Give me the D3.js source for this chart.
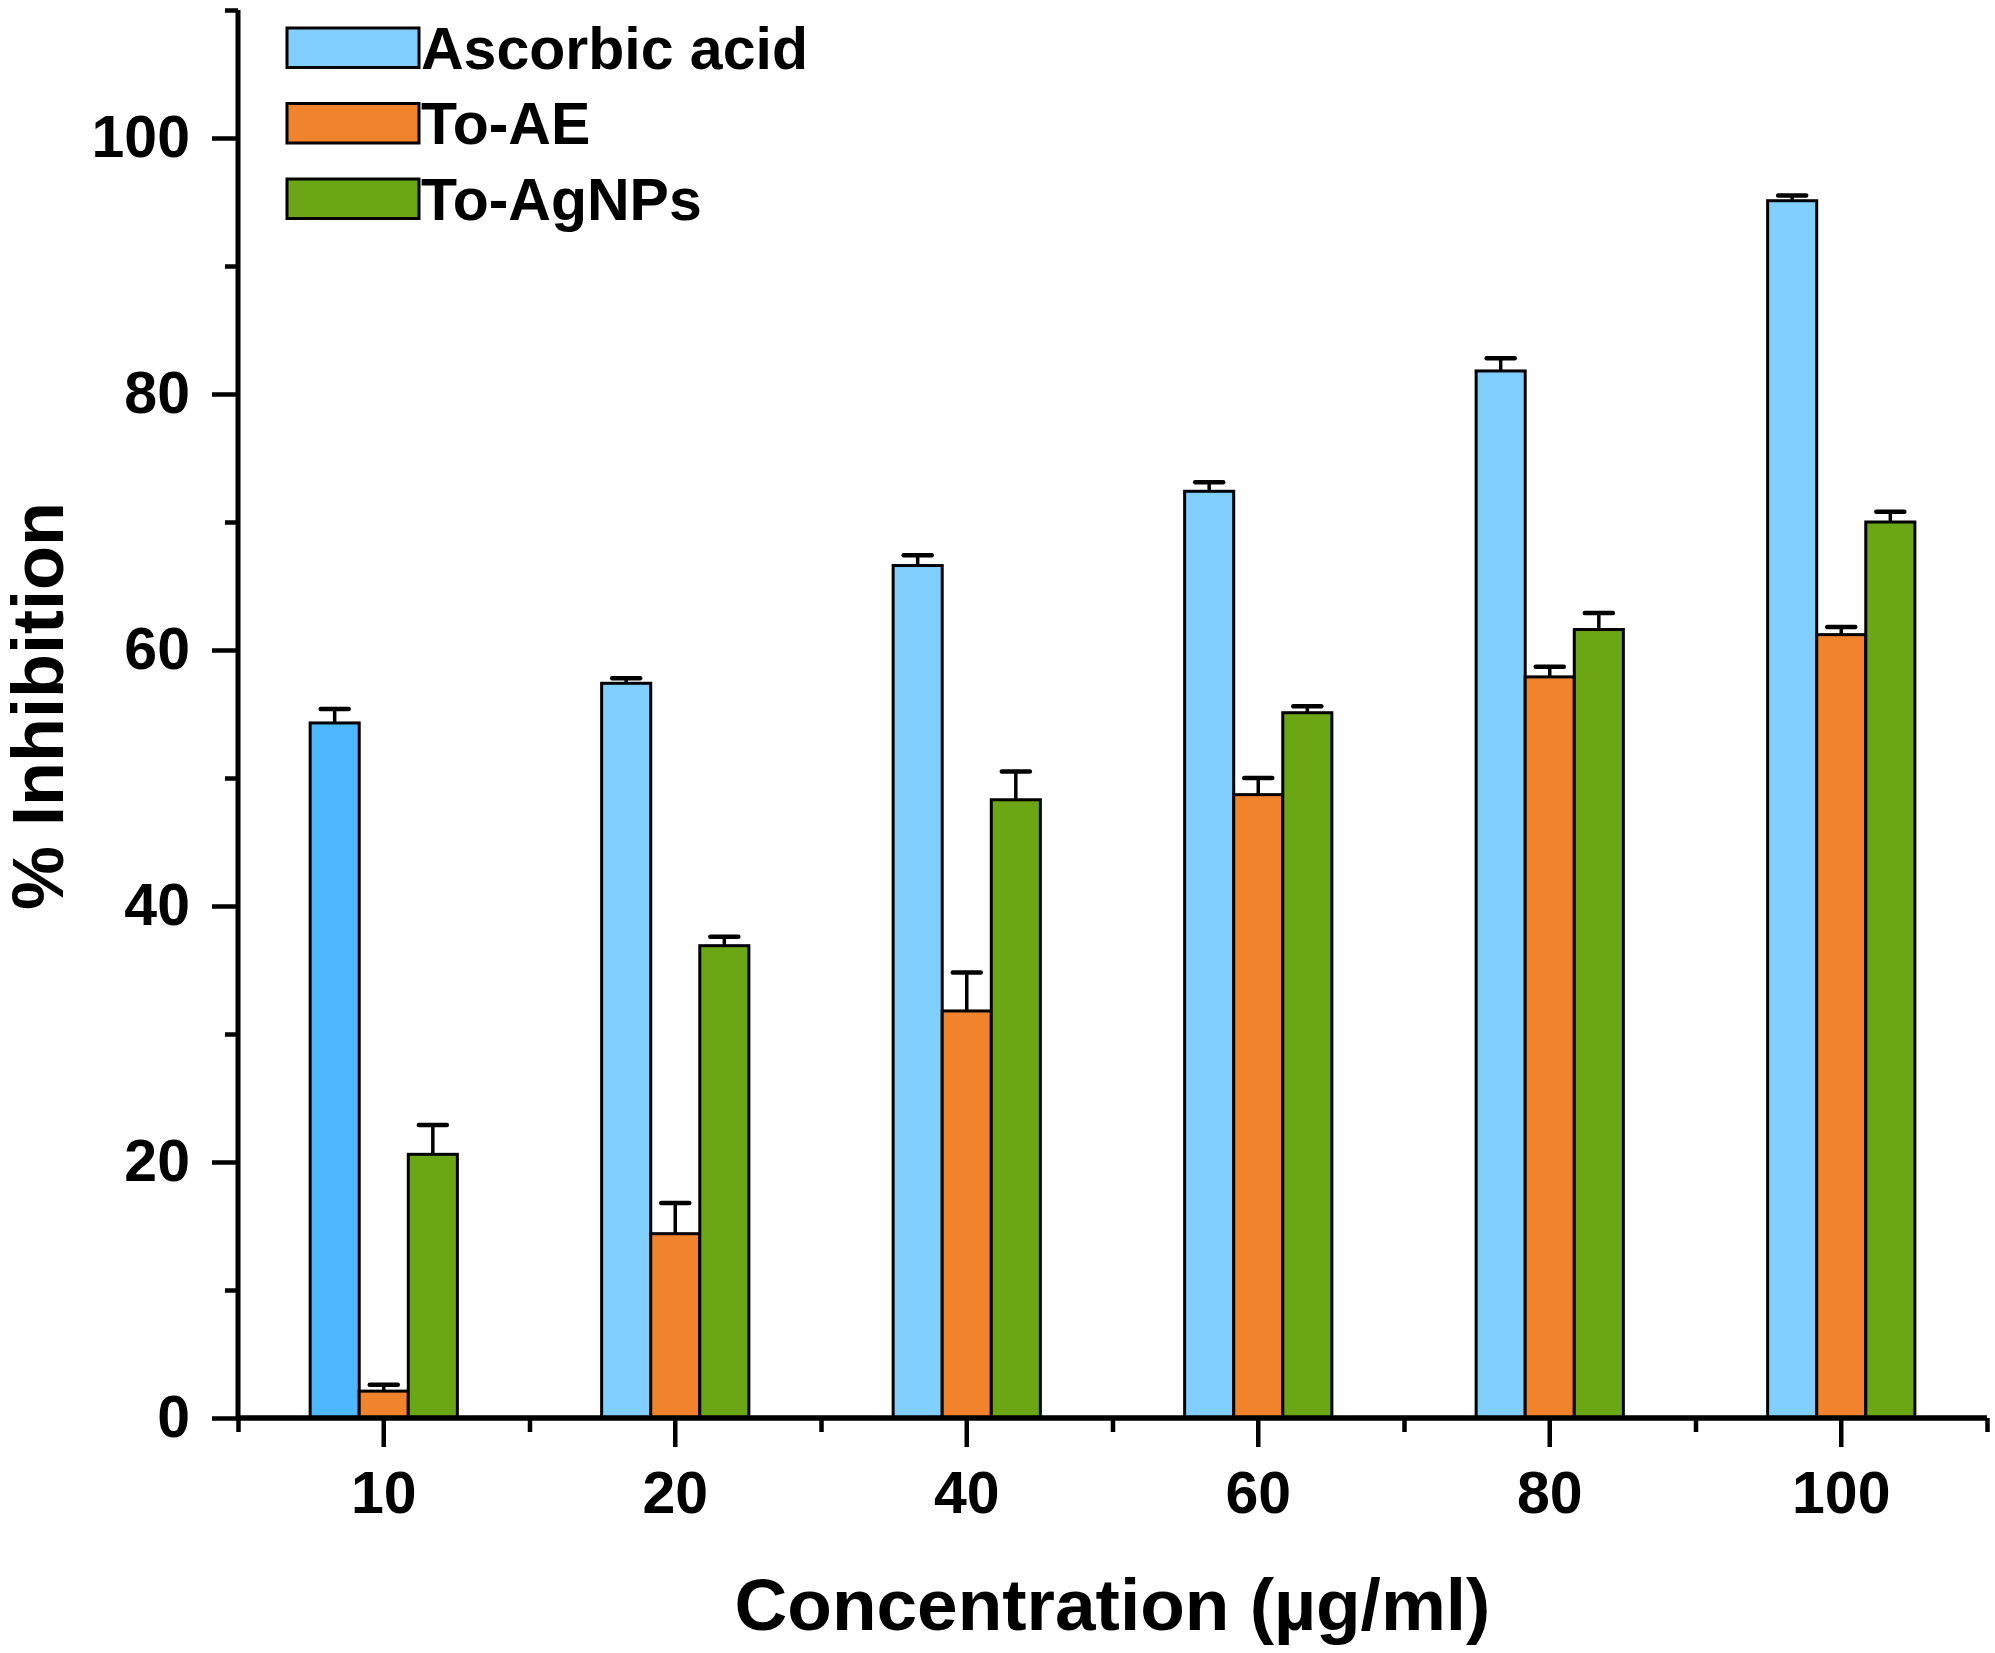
<!DOCTYPE html>
<html>
<head>
<meta charset="utf-8">
<script src="https://cdn.jsdelivr.net/npm/d3@7"></script>
<style>
  body { margin: 0; background: #fff; }
  text { font-family: "Liberation Sans", Arial, sans-serif; font-weight: bold; fill: #000; }
</style>
</head>
<body>
<div id="chart"></div>
<script>
// concentrations (µg/ml) on the x axis
var categories = ["10", "20", "40", "60", "80", "100"];
var seriesNames = ["Ascorbic acid", "To-AE", "To-AgNPs"];

// % inhibition
var ascorbic = [54.3, 57.4, 66.6, 72.4, 81.8, 95.1];
var toAE     = [2.1, 14.4, 31.8, 48.7, 57.9, 61.2];
var toAgNPs  = [20.6, 36.9, 48.3, 55.1, 61.6, 70.0];

// upper error bars
var ascorbicErr = [1.1, 0.4, 0.8, 0.7, 1.0, 0.4];
var toAEErr     = [0.5, 2.4, 3.0, 1.3, 0.8, 0.6];
var toAgNPsErr  = [2.3, 0.7, 2.2, 0.5, 1.3, 0.8];

var yMajorTicks = [0, 20, 40, 60, 80, 100];
var yMinorTicks = [10, 30, 50, 70, 90, 110];

function init() {
    var W = 1995, H = 1653;
    var left = 238, right = 1987, top = 10, bottom = 1418;

    var colors = ["#80CFFF", "#F0832B", "#6BA615"];
    var firstBarColor = "#4DB8FF"; // the 10 µg/ml ascorbic bar is drawn darker in the original

    var values = [ascorbic, toAE, toAgNPs];
    var errors = [ascorbicErr, toAEErr, toAgNPsErr];

    var svg = d3.select("#chart")
                .append("svg")
                .attr("width", W)
                .attr("height", H);

    var x = d3.scaleBand()
              .domain(categories)
              .range([left, right])
              .padding(0);

    // bars of one group sit side by side, about half the band wide
    var xInner = d3.scaleBand()
                   .domain(seriesNames)
                   .range([0, x.bandwidth()])
                   .paddingInner(0)
                   .paddingOuter(1.47);

    var y = d3.scaleLinear()
              .domain([0, 110])
              .range([bottom, top]);

    // flatten to one record per bar
    var bars = [];
    categories.forEach(function(c, i) {
        seriesNames.forEach(function(s, j) {
            bars.push({ cat: c, ser: s, si: j, ci: i, v: values[j][i], e: errors[j][i] });
        });
    });

    svg.selectAll("rect.bar")
       .data(bars)
       .enter()
       .append("rect")
       .attr("class", "bar")
       .attr("x", function(d) { return x(d.cat) + xInner(d.ser); })
       .attr("y", function(d) { return y(d.v); })
       .attr("width", xInner.bandwidth())
       .attr("height", function(d) { return y(0) - y(d.v); })
       .attr("fill", function(d) {
           if (d.si === 0 && d.ci === 0) return firstBarColor;
           return colors[d.si];
       })
       .attr("stroke", "#000")
       .attr("stroke-width", 3);

    // error bars (upper half only)
    var eb = svg.selectAll("g.err")
                .data(bars)
                .enter()
                .append("g")
                .attr("class", "err")
                .attr("transform", function(d) {
                    return "translate(" + (x(d.cat) + xInner(d.ser) + xInner.bandwidth() / 2) + ",0)";
                });

    eb.append("line")
      .attr("x1", 0).attr("x2", 0)
      .attr("y1", function(d) { return y(d.v); })
      .attr("y2", function(d) { return y(d.v + d.e); })
      .attr("stroke", "#000")
      .attr("stroke-width", 3.5);

    eb.append("line")
      .attr("x1", -14).attr("x2", 14)
      .attr("y1", function(d) { return y(d.v + d.e); })
      .attr("y2", function(d) { return y(d.v + d.e); })
      .attr("stroke", "#000")
      .attr("stroke-width", 4.5)
      .attr("stroke-linecap", "round");

    // y axis, major and minor ticks
    svg.append("g")
       .attr("transform", "translate(" + left + ",0)")
       .call(d3.axisLeft(y).tickValues(yMajorTicks).tickSize(26).tickPadding(22).tickSizeOuter(0));
    svg.append("g")
       .attr("transform", "translate(" + left + ",0)")
       .call(d3.axisLeft(y).tickValues(yMinorTicks).tickSize(13).tickFormat("").tickSizeOuter(0));

    // x axis, major ticks at the groups, minor at the group edges
    svg.append("g")
       .attr("transform", "translate(0," + bottom + ")")
       .call(d3.axisBottom(x).tickSize(29).tickPadding(24).tickSizeOuter(0));
    var xEdge = d3.scaleLinear().domain([0, categories.length]).range([left, right]);
    svg.append("g")
       .attr("transform", "translate(0," + bottom + ")")
       .call(d3.axisBottom(xEdge).tickValues(d3.range(categories.length + 1)).tickSize(14).tickFormat("").tickSizeOuter(0));

    svg.selectAll(".domain").remove();
    svg.selectAll(".tick line")
       .attr("stroke", "#000")
       .attr("stroke-width", 4.5);
    svg.selectAll(".tick text")
       .style("font-size", "59px")
       .style("font-family", "'Liberation Sans', Arial, sans-serif")
       .style("font-weight", "bold")
       .attr("fill", "#000");

    // axis lines
    svg.append("line")
       .attr("x1", left).attr("x2", left)
       .attr("y1", y(110)).attr("y2", y(0))
       .attr("stroke", "#000").attr("stroke-width", 5);
    svg.append("line")
       .attr("x1", left - 2).attr("x2", right)
       .attr("y1", y(0)).attr("y2", y(0))
       .attr("stroke", "#000").attr("stroke-width", 5.5);

    // legend
    var legend = svg.selectAll("g.legend")
                    .data(seriesNames)
                    .enter()
                    .append("g")
                    .attr("class", "legend")
                    .attr("transform", function(d, i) { return "translate(287," + (28 + i * 75.5) + ")"; });

    legend.append("rect")
          .attr("width", 132)
          .attr("height", 39.5)
          .attr("fill", function(d, i) { return colors[i]; })
          .attr("stroke", "#000")
          .attr("stroke-width", 3);

    legend.append("text")
          .attr("x", 134)
          .attr("y", 40.5)
          .style("font-size", "59px")
          .text(function(d) { return d; });

    // axis titles
    svg.append("text")
       .attr("x", (left + right) / 2)
       .attr("y", 1630)
       .attr("text-anchor", "middle")
       .style("font-size", "73px")
       .text("Concentration (µg/ml)");

    svg.append("text")
       .attr("transform", "translate(63,706) rotate(-90)")
       .attr("text-anchor", "middle")
       .style("font-size", "72px")
       .text("% Inhibition");
}

window.onload = init;
</script>
</body>
</html>
